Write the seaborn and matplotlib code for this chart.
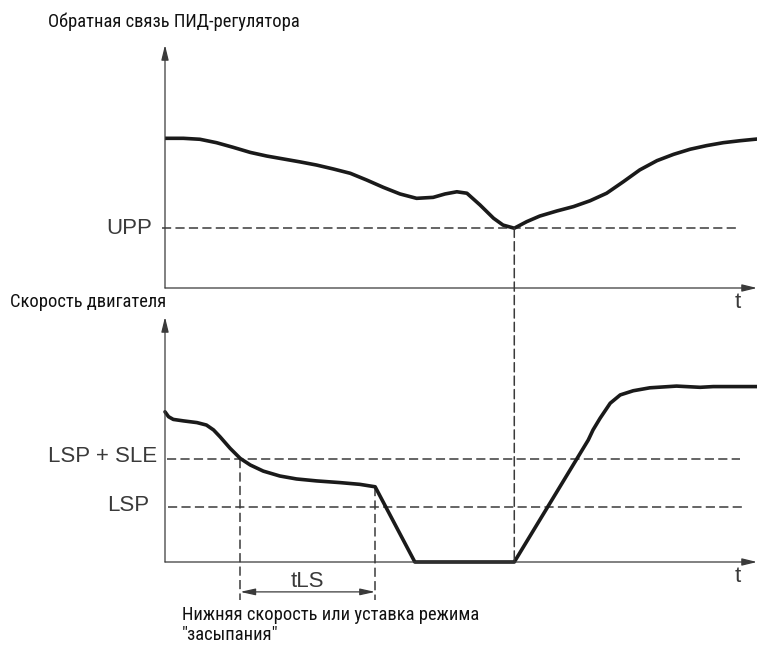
import matplotlib
matplotlib.use('Agg')
import matplotlib.pyplot as plt
from matplotlib import font_manager
from matplotlib.patches import ConnectionPatch
import seaborn as sns

# Обратная связь ПИД-регулятора (верхний график)
fb_time = [0, 3.1, 5.9, 8.7, 11.5, 14.4, 17.2, 20.0, 22.8, 25.6, 28.4, 31.3, 34.1,
           36.9, 39.7, 42.5, 45.3, 47.3, 49.3, 51.0, 53.2, 55.5, 57.1, 59.0, 61.1,
           63.3, 66.2, 69.0, 71.8, 74.6, 77.4, 80.2, 83.1, 85.9, 88.7, 91.5, 94.3,
           97.1, 100]
fb_value = [61.6, 61.6, 61.2, 59.8, 57.9, 55.8, 54.3, 53.1, 51.9, 50.6, 49.0, 47.2, 44.4,
            41.4, 38.7, 36.9, 37.3, 38.7, 39.6, 39.0, 34.2, 28.7, 25.9, 24.6, 27.3,
            29.6, 31.7, 33.5, 35.9, 39.0, 43.7, 48.6, 52.4, 55.0, 57.1, 58.6, 59.8,
            60.6, 61.3]
upp_level = 24.6
wake_time = 59.0

# Скорость двигателя (нижний график)
spd_time = [0, 0.6, 1.4, 3.1, 5.4, 7.0, 8.2, 9.3, 11.0, 12.7, 14.4, 16.6, 19.4, 22.2,
            25.6, 29.6, 32.9, 35.5, 42.2, 59.0, 71.5, 72.3, 73.5, 75.2, 76.9, 79.1,
            81.9, 86.4, 90.4, 92.6, 100]
spd_value = [61.3, 59.3, 58.2, 57.6, 56.9, 55.9, 53.9, 51.1, 46.4, 42.3, 39.6, 37.1, 35.1, 33.9,
             33.1, 32.4, 31.7, 30.7, 0, 0, 49.8, 53.9, 58.7, 64.8, 68.2, 69.9,
             71.1, 71.8, 71.3, 71.6, 71.6]
lsp_sle_level = 42.0
lsp_level = 22.4
tls_start = 12.7
tls_end = 35.5

sns.set_theme(style='white')
names = {f.name for f in font_manager.fontManager.ttflist}
narrow = next((n for n in ['Roboto Condensed', 'PT Sans Narrow', 'Liberation Sans Narrow']
               if n in names), 'Liberation Sans')
plt.rcParams['font.family'] = ['Liberation Sans', 'DejaVu Sans']

W, H = 757, 648
fig = plt.figure(figsize=(W / 100, H / 100), dpi=100)
fig.patch.set_facecolor('white')

ax1 = fig.add_axes([165 / W, (H - 288) / H, (W - 165) / W, (288 - 45) / H])
ax2 = fig.add_axes([165 / W, (H - 562) / H, (W - 165) / W, (562 - 317) / H])

AX_COL = '#3a3a3a'
DASH = (6.0, 2.8)
label_kw = dict(fontsize=16, color='#3a3a3a', family=['Liberation Sans', 'DejaVu Sans'])
narrow_kw = dict(fontsize=13.3, color='#111111', family=[narrow, 'DejaVu Sans'])


def draw_axes(ax):
    ax.set_xlim(0, 100)
    ax.set_ylim(0, 100)
    for s in ax.spines.values():
        s.set_visible(False)
    ax.set_xticks([])
    ax.set_yticks([])
    ax.patch.set_alpha(0)
    arrow = dict(arrowstyle='-|>,head_length=0.9,head_width=0.22', color=AX_COL,
                 lw=0.9, shrinkA=0, shrinkB=0, mutation_scale=10)
    ax.annotate('', xy=(1, 0), xytext=(0, 0), xycoords='axes fraction',
                arrowprops=arrow, annotation_clip=False)
    ax.annotate('', xy=(0, 1), xytext=(0, 0), xycoords='axes fraction',
                arrowprops=arrow, annotation_clip=False)
    ax.text(96.8, -6, 't', ha='center', va='center', **label_kw)


def hdash(ax, y, x0, x1):
    ax.plot([x0, x1], [y, y], color=AX_COL, lw=1.1, dashes=DASH, clip_on=False)


# верхний график
draw_axes(ax1)
hdash(ax1, upp_level, -0.5, 96.6)
sns.lineplot(x=fb_time, y=fb_value, ax=ax1, color='#1a1a1a', lw=2.6, sort=False,
             estimator=None)
ax1.lines[-1].set_solid_joinstyle('round')
ax1.lines[-1].set_solid_capstyle('round')
ax1.annotate('UPP', xy=(0, upp_level), xytext=(-9.5, 0), textcoords='offset points',
             ha='right', va='center', **label_kw)

# нижний график
draw_axes(ax2)
hdash(ax2, lsp_sle_level, 0.3, 97.1)
hdash(ax2, lsp_level, 0.5, 97.6)
ax2.plot([tls_start, tls_start], [lsp_sle_level, -15.5], color=AX_COL, lw=1.1,
         dashes=DASH, clip_on=False)
ax2.plot([tls_end, tls_end], [spd_value[spd_time.index(tls_end)], -15.5], color=AX_COL,
         lw=1.1, dashes=DASH, clip_on=False)
sns.lineplot(x=spd_time, y=spd_value, ax=ax2, color='#1a1a1a', lw=2.6, sort=False,
             estimator=None)
ax2.lines[-1].set_solid_joinstyle('round')
ax2.lines[-1].set_clip_on(False)
ax2.annotate('LSP + SLE', xy=(0, lsp_sle_level), xytext=(-6, 2), textcoords='offset points',
             ha='right', va='center', **label_kw)
ax2.annotate('LSP', xy=(0, lsp_level), xytext=(-11, 1), textcoords='offset points',
             ha='right', va='center', **label_kw)
ax2.annotate('', xy=(tls_end, -12.2), xytext=(tls_start, -12.2),
             arrowprops=dict(arrowstyle='<|-|>,head_length=0.9,head_width=0.2',
                             color=AX_COL, lw=0.9, shrinkA=0, shrinkB=0,
                             mutation_scale=10),
             annotation_clip=False)
ax2.text((tls_start + tls_end) / 2, -8.0, 'tLS', ha='center', va='center', **label_kw)

# вертикальная пунктирная линия между графиками
con = ConnectionPatch(xyA=(wake_time, upp_level), coordsA=ax1.transData,
                      xyB=(wake_time, 0), coordsB=ax2.transData,
                      color=AX_COL, lw=1.1, linestyle=(0, DASH))
fig.add_artist(con)

fig.text(48 / W, 1 - 22 / H, 'Обратная связь ПИД-регулятора', ha='left', va='center',
         **narrow_kw)
fig.text(10 / W, 1 - 302 / H, 'Скорость двигателя', ha='left', va='center', **narrow_kw)
fig.text(182 / W, 1 - 615 / H, 'Нижняя скорость или уставка режима', ha='left',
         va='center', **narrow_kw)
fig.text(182 / W, 1 - 635 / H, '"засыпания"', ha='left', va='center', **narrow_kw)

fig.savefig('out.png', dpi=100, facecolor='white')
